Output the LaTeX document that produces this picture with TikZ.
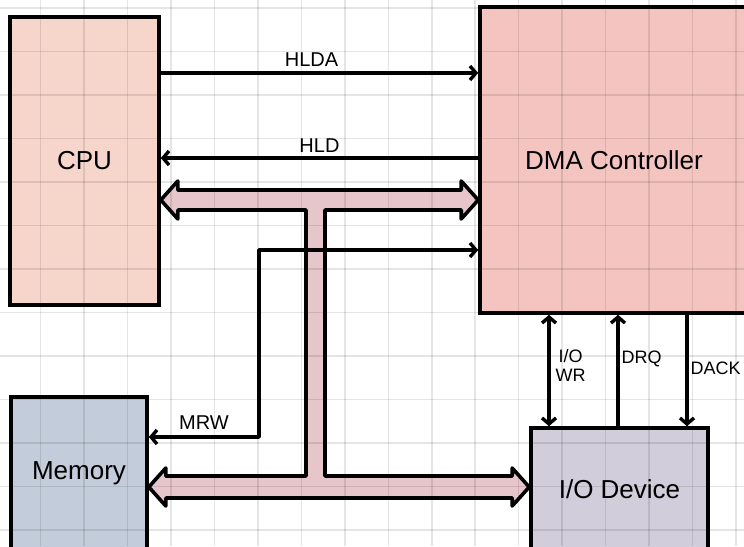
\documentclass[tikz,border=0pt]{standalone}
\usepackage{fontspec}
\setmainfont{Liberation Sans}
\usetikzlibrary{arrows.meta, calc}
\definecolor{cpufill}{HTML}{F6D5CB}
\definecolor{dmafill}{HTML}{F3C4C0}
\definecolor{memfill}{HTML}{C3CCDA}
\definecolor{iofill}{HTML}{D1CDDA}
\definecolor{busfill}{HTML}{E6C5CB}
\tikzset{
  unit/.style={draw=black, line width=3.6pt, inner sep=0pt, font=\fontsize{26}{30}\selectfont},
  sig/.style={line width=3.4pt, line join=round},
  siglabel/.style={font=\fontsize{20}{22}\selectfont, inner sep=3pt},
  sidelabel/.style={font=\fontsize{18}{19}\selectfont, inner sep=2pt, right},
  gridline/.style={black, opacity=0.1, line width=1.5pt}
}

\begin{document}
\begin{tikzpicture}[x=1pt, y=-1pt, >={Straight Barb[length=6pt, width=14pt]}]
    \useasboundingbox (0,0) rectangle (744,546);
    \fill[white] (0,0) rectangle (744,546);

    % Units
    \node[unit, fill=cpufill, minimum width=149pt, minimum height=288pt] (cpu) at (84.5,161) {CPU};
    \node[unit, fill=dmafill, minimum width=268pt, minimum height=306pt] (dma) at (614,160) {DMA Controller};
    \node[unit, fill=memfill, minimum width=136pt, minimum height=153pt] (mem) at (79,473.5) {Memory};
    \node[unit, fill=iofill, minimum width=177pt, minimum height=122pt] (io) at (619.5,489) {I/O Device};

    % System bus
    \draw[line width=3.6pt, line join=round, fill=busfill]
      (cpu.east |- 0,200) -- ++(17,-19) -- ++(0,9)
      -- ($(dma.west |- 0,190)+(-17,0)$) -- ++(0,-9)
      -- (dma.west |- 0,200) -- ++(-17,19) -- ++(0,-9)
      -- (325,210) -- (325,476)
      -- ($(io.west |- 0,476)+(-17,0)$) -- ++(0,-8)
      -- (io.west |- 0,487) -- ++(-17,19) -- ++(0,-8)
      -- ($(mem.east |- 0,498)+(17,0)$) -- ++(0,8)
      -- (mem.east |- 0,487) -- ++(17,-19) -- ++(0,8)
      -- (306,476) -- (306,210)
      -- ($(cpu.east |- 0,210)+(17,0)$) -- ++(0,9) -- cycle;

    % Control lines
    \draw[sig, ->] (cpu.east |- 0,73) -- node[siglabel, above=2pt, xshift=-8pt] {HLDA} (dma.west |- 0,73);
    \draw[sig, ->] (dma.west |- 0,158) -- node[siglabel, above=1pt] {HLD} (cpu.east |- 0,158);
    \draw[sig, <->] (dma.west |- 0,250) -| (259,437) -- node[siglabel, above=3pt] {MRW} (mem.east |- 0,437);
    \draw[sig, <->] (dma.south -| 549,0) -- node[sidelabel, align=center, yshift=5pt, xshift=3pt] {I/O\\WR} (io.north -| 549,0);
    \draw[sig, ->] (io.north -| 618,0) -- node[sidelabel, yshift=12pt] {DRQ} (dma.south -| 618,0);
    \draw[sig, ->] (dma.south -| 687,0) -- node[sidelabel, yshift=2pt] {DACK} (io.north -| 687,0);

    % Grid paper
    \foreach \i in {-1,...,16} {
      \draw[gridline] ({40.7+43.45*\i},0) -- ++(0,546);
    }
    \foreach \j in {0,...,12} {
      \draw[gridline] (0,{8.2+43.5*\j}) -- ++(744,0);
    }
  \end{tikzpicture}
\end{document}
